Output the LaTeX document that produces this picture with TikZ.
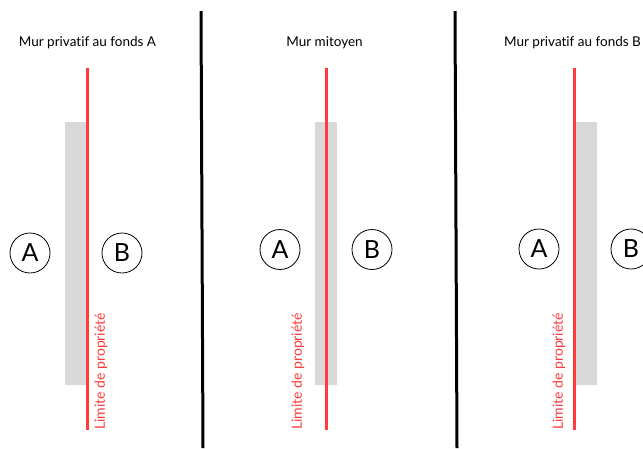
\documentclass[tikz,border=0pt]{standalone}
\usepackage{fontspec}
\setmainfont{Lato}[Ligatures={NoCommon}]
\definecolor{limred}{HTML}{FF3B3B}
\definecolor{wallgray}{HTML}{D9D9D9}
\tikzset{
  titlebox/.style={font=\fontsize{13.5}{15}\selectfont, text=black, inner sep=0pt},
  wallrect/.style={fill=wallgray, draw=none},
  limline/.style={draw=limred, line width=3pt},
  divline/.style={draw=black, line width=3pt},
  fondsbox/.style={circle, draw=black, line width=0.8pt, minimum size=40pt, inner sep=0pt, font=\fontsize{25}{25}\selectfont},
  limlabel/.style={rotate=90, anchor=west, text=limred, font=\fontsize{14}{16}\selectfont, inner sep=0pt}
}
\begin{document}
\begin{tikzpicture}[x=1pt,y=-1pt]
\useasboundingbox (0,0) rectangle (643,448);
\fill[white] (0,0) rectangle (643,448);
% dividers
\coordinate (d1t) at (201,11); \coordinate (d1b) at (203,448);
\coordinate (d2t) at (455,11); \coordinate (d2b) at (457,448);
\draw[divline] (d1t) -- (d1b);
\draw[divline] (d2t) -- (d2b);
% panel 1
\node[titlebox] (t1) at (87.5,43) {Mur privatif au fonds A};
\fill[wallrect] (65,122) rectangle (86,385);
\coordinate (r1t) at (87,68); \coordinate (r1b) at (87,430);
\draw[limline] (r1t) -- (r1b);
\node[fondsbox] (a1) at (30,253) {A};
\node[fondsbox] (b1) at (122,253) {B};
\node[limlabel] (l1) at (101,430) {Limite de propriété};
% panel 2
\node[titlebox] (t2) at (324.5,43) {Mur mitoyen};
\fill[wallrect] (315,122) rectangle (337,385);
\coordinate (r2t) at (326,68); \coordinate (r2b) at (326,430);
\draw[limline] (r2t) -- (r2b);
\node[fondsbox] (a2) at (280,249.5) {A};
\node[fondsbox] (b2) at (372,249.5) {B};
\node[limlabel] (l2) at (298,430) {Limite de propriété};
% panel 3
\node[titlebox] (t3) at (572.5,43) {Mur privatif au fonds B};
\fill[wallrect] (576,122) rectangle (597,385);
\coordinate (r3t) at (574,68); \coordinate (r3b) at (574,430);
\draw[limline] (r3t) -- (r3b);
\node[fondsbox] (a3) at (539,249) {A};
\node[fondsbox] (b3) at (631,249) {B};
\node[limlabel] (l3) at (559,430) {Limite de propriété};
\end{tikzpicture}
\end{document}
